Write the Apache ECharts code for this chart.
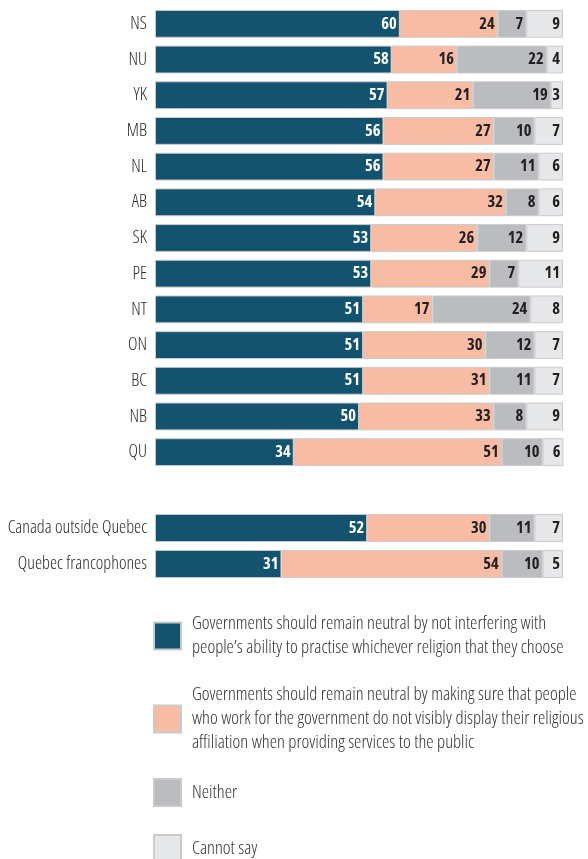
<!DOCTYPE html>
<html><head><meta charset="utf-8">
<script src="https://cdn.jsdelivr.net/npm/echarts@6/dist/echarts.min.js"></script>
<style>html,body{margin:0;padding:0;background:#fff}#c{width:588px;height:859px}</style>
</head><body><div id="c"></div>
<script>
const provinces = ['NS','NU','YK','MB','NL','AB','SK','PE','NT','ON','BC','NB','QU'];
const provNeutralNoInterfere = [60,58,57,56,56,54,53,53,51,51,51,50,34];
const provNoDisplay = [24,16,21,27,27,32,26,29,17,30,31,33,51];
const provNeither = [7,22,19,10,11,8,12,7,24,12,11,8,10];
const provCannotSay = [9,4,3,7,6,6,9,11,8,7,7,9,6];

const groups = ['Canada outside Quebec','Quebec francophones'];
const grpNeutralNoInterfere = [52,31];
const grpNoDisplay = [30,54];
const grpNeither = [11,10];
const grpCannotSay = [7,5];

const seriesNames = [
  'Governments should remain neutral by not interfering with\npeople\u2019s ability to practise whichever religion that they choose',
  'Governments should remain neutral by making sure that people\nwho work for the government do not visibly display their religious\naffiliation when providing services to the public',
  'Neither',
  'Cannot say'
];
const colors = ['#14536f','#f8bca4','#bbbcbf','#e6e7e9'];
const labelColors = ['#ffffff','#231f20','#231f20','#231f20'];
const FONT = "'Open Sans','DejaVu Sans Condensed',sans-serif";
const STRETCH = 'condensed';

const chart = echarts.init(document.getElementById('c'));

function mkSeries(data, idx, gridIdx) {
  return {
    name: seriesNames[idx], type: 'bar', stack: 'g' + gridIdx,
    xAxisIndex: gridIdx, yAxisIndex: gridIdx,
    data: data, barCategoryGap: '22%',
    itemStyle: { color: colors[idx], borderColor: '#c9cacc', borderWidth: 1 },
    label: { show: true, position: 'insideRight', distance: 3, color: labelColors[idx],
      fontFamily: FONT, fontStyle: STRETCH, fontWeight: 'bold', fontSize: 16.5 },
    emphasis: { disabled: true }, animation: false
  };
}
const provData = [provNeutralNoInterfere, provNoDisplay, provNeither, provCannotSay];
const grpData = [grpNeutralNoInterfere, grpNoDisplay, grpNeither, grpCannotSay];
const series = [];
provData.forEach((d,i)=>series.push(mkSeries(d,i,0)));
grpData.forEach((d,i)=>series.push(mkSeries(d,i,1)));

function xAx(g){ return { type:'value', gridIndex:g, min:0, max:100, show:false }; }
function yAx(g, cats){ return { type:'category', gridIndex:g, data:cats, inverse:true,
  axisLine:{show:false}, axisTick:{show:false},
  axisLabel:{ fontFamily:FONT, fontStyle:STRETCH, fontWeight:300, fontSize:18, color:'#2a2a2a', margin:8 } }; }

const legendTops = [612, 683, 778, 834];
const legends = seriesNames.map((n,i)=>({
  data:[n], left:153, top:legendTops[i], orient:'vertical', padding:0,
  itemWidth:27, itemHeight:27, icon:'rect', selectedMode:false,
  textStyle:{ fontFamily:FONT, fontStyle:STRETCH, fontWeight:300, fontSize:18.5, color:'#333333', lineHeight:24, padding:[0,0,0,6] }
}));

chart.setOption({
  backgroundColor:'#fff',
  grid:[
    { left:155, right:25, top:6, height:464, outerBoundsMode:'none', containLabel:false },
    { left:155, right:25, top:510, height:72, outerBoundsMode:'none', containLabel:false }
  ],
  xAxis:[xAx(0), xAx(1)],
  yAxis:[yAx(0, provinces), yAx(1, groups)],
  legend: legends,
  series: series
});
</script></body></html>
